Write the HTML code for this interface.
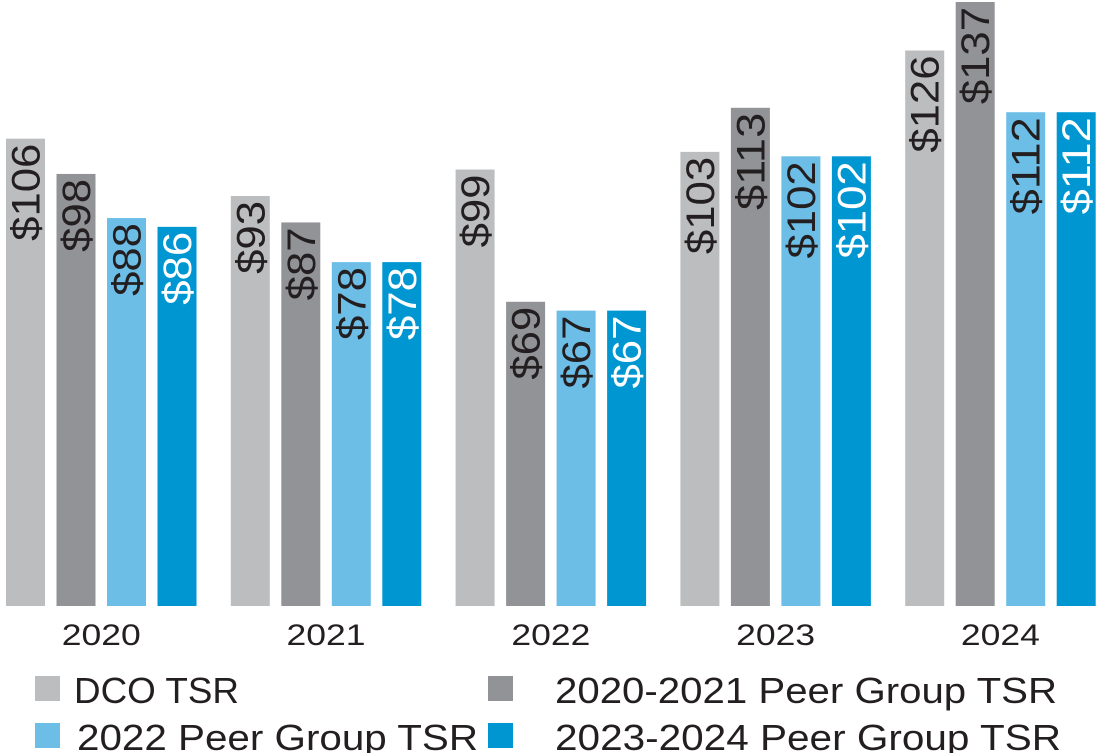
<!DOCTYPE html>
<html><head><meta charset="utf-8"><style>
html,body{margin:0;padding:0;background:#fff;}
svg{display:block;font-family:"Liberation Sans",sans-serif;}
</style></head><body>
<svg id="chart" width="1100" height="753" viewBox="0 0 1100 753">
<g id="bars"></g>
<g id="xlabels"></g>
<g>
 <g><rect x="35" y="676" width="25" height="25" fill="#bcbdbf"/><text x="74" y="703" font-size="36" fill="#231f20" textLength="165" lengthAdjust="spacingAndGlyphs">DCO TSR</text></g>
 <g><rect x="488" y="676" width="25" height="25" fill="#929396"/><text x="555" y="703" font-size="36" fill="#231f20" textLength="502" lengthAdjust="spacingAndGlyphs">2020-2021 Peer Group TSR</text></g>
 <g><rect x="35" y="723" width="25" height="25" fill="#6dbee6"/><text x="77" y="750" font-size="36" fill="#231f20" textLength="401" lengthAdjust="spacingAndGlyphs">2022 Peer Group TSR</text></g>
 <g><rect x="488" y="723" width="25" height="25" fill="#0096d2"/><text x="555" y="750" font-size="36" fill="#231f20" textLength="506" lengthAdjust="spacingAndGlyphs">2023-2024 Peer Group TSR</text></g>
</g>
</svg>
<script>
const years = ["2020","2021","2022","2023","2024"];
const dco = [106,93,99,103,126];
const peer2021 = [98,87,69,113,137];
const peer2022 = [88,78,67,102,112];
const peer2024 = [86,78,67,102,112];
const series = [dco, peer2021, peer2022, peer2024];
const colors = ["#bcbdbf","#929396","#6dbee6","#0096d2"];
const textColors = ["#231f20","#231f20","#231f20","#ffffff"];
const names = ["dco","peer-2020-2021","peer-2022","peer-2023-2024"];
const base = 606, pxPer = 604/137;
const y = v => base - v*pxPer;
const groupX = i => 6 + i*224.8;
const barX = (i,s) => groupX(i) + s*50.5;
const bw = 39;
const NS = "http://www.w3.org/2000/svg";
const bars = document.getElementById('bars');
const xl = document.getElementById('xlabels');
years.forEach((yr,i)=>{
  series.forEach((arr,s)=>{
    const v = arr[i];
    const r = document.createElementNS(NS,'rect');
    
    
    r.setAttribute('x', barX(i,s)); r.setAttribute('y', y(v));
    r.setAttribute('width', bw); r.setAttribute('height', base - y(v));
    r.setAttribute('fill', colors[s]);
    bars.appendChild(r);
    const t = document.createElementNS(NS,'text');
    
    
    const lbl = '$'+v;
    const cx = barX(i,s)+bw/2 + 14, ty = y(v)+5;
    t.setAttribute('transform', 'translate('+cx+','+ty+') rotate(-90)');
    t.setAttribute('text-anchor','end');
    t.setAttribute('font-size','40');
    t.setAttribute('fill', textColors[s]);
    t.setAttribute('textLength', lbl.length*24.3);
    t.setAttribute('lengthAdjust','spacingAndGlyphs');
    t.textContent = lbl;
    bars.appendChild(t);
  });
  const t = document.createElementNS(NS,'text');
  
  
  t.setAttribute('x', groupX(i)+ (3*50.5+bw)/2);
  t.setAttribute('y', 645);
  t.setAttribute('text-anchor','middle');
  t.setAttribute('font-size','30');
  t.setAttribute('fill','#231f20');
  t.setAttribute('textLength', 79);
  t.setAttribute('lengthAdjust','spacingAndGlyphs');
  t.textContent = yr;
  xl.appendChild(t);
});
</script>
</body></html>
